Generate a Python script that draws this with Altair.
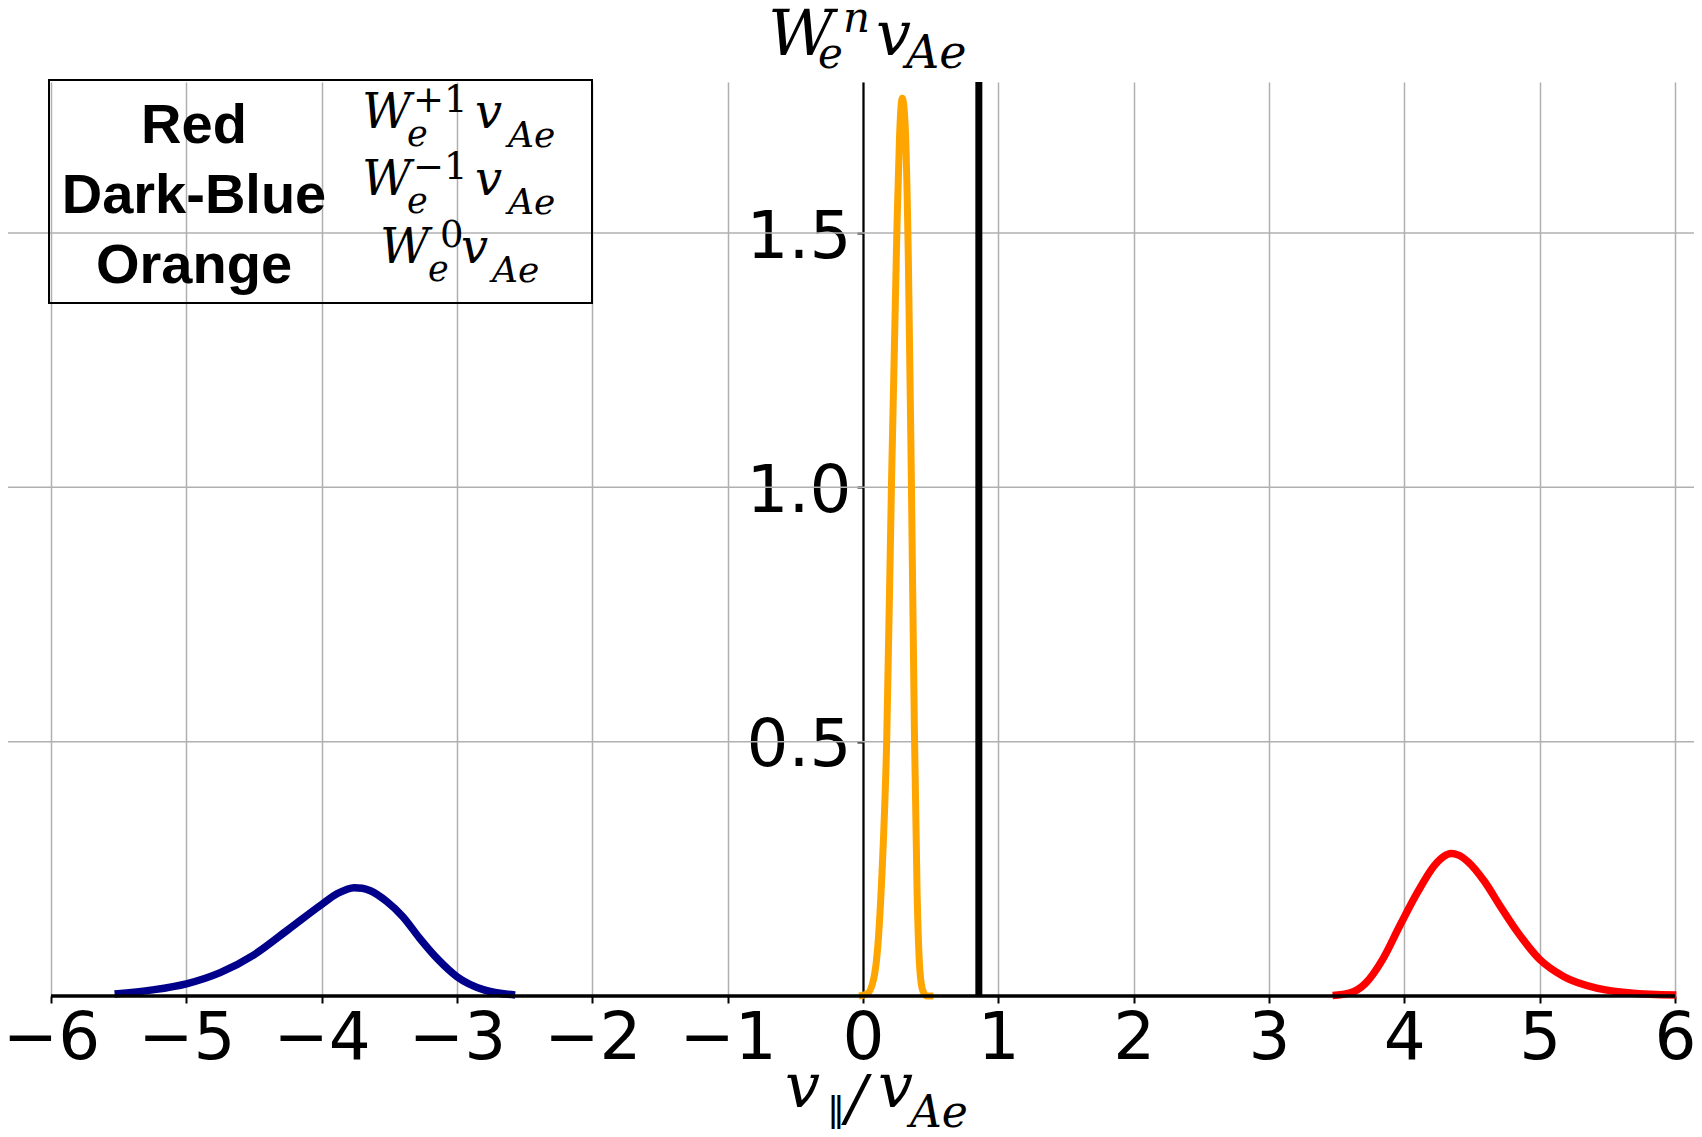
import altair as alt
import pandas as pd

# ---------------- data ----------------
blue_x = [-5.53, -5.25, -5.0, -4.75, -4.5, -4.25, -4.0, -3.88, -3.82, -3.76, -3.70, -3.64,
          -3.52, -3.4, -3.28, -3.14, -3.0, -2.8, -2.57]
blue_y = [0.004, 0.012, 0.024, 0.046, 0.081, 0.130, 0.180, 0.202, 0.209, 0.213, 0.212, 0.207,
          0.186, 0.156, 0.115, 0.072, 0.038, 0.012, 0.002]

red_x = [3.47, 3.6, 3.71, 3.84, 3.97, 4.1, 4.22, 4.29, 4.345, 4.40, 4.47, 4.59, 4.71, 4.83,
         5.0, 5.18, 5.43, 5.67, 6.01]
red_y = [0.001, 0.006, 0.024, 0.072, 0.140, 0.205, 0.256, 0.274, 0.280, 0.277, 0.264, 0.226,
         0.176, 0.128, 0.072, 0.038, 0.015, 0.006, 0.002]

orange_x = [-0.03, 0.03, 0.08, 0.11, 0.14, 0.175, 0.21, 0.25, 0.27, 0.29, 0.31, 0.335,
            0.358, 0.38, 0.40, 0.418, 0.44, 0.47, 0.52]
orange_y = [0.0, 0.004, 0.035, 0.10, 0.24, 0.5, 1.0, 1.5, 1.69, 1.765, 1.72, 1.45,
            1.0, 0.52, 0.2, 0.06, 0.012, 0.0, 0.0]

vline_x = [0.856]
x_ticks = [-6, -5, -4, -3, -2, -1, 0, 1, 2, 3, 4, 5, 6]
y_ticks = [0.5, 1.0, 1.5]
spine_x = [-6]
spine_x2 = [6]

legend_names = ["Red", "Dark-Blue", "Orange"]

# ---------------- layout ----------------
W = 1686
H = 914
XMIN, XMAX = -6.3177, 6.1404
YMAX = 1.797
OX, OY = 8, 82  # screen position of the view origin
y_axis_px = (0 - XMIN) / (XMAX - XMIN) * W

xs = alt.Scale(domain=[XMIN, XMAX], nice=False, zero=False)
ys = alt.Scale(domain=[0, YMAX], nice=False, zero=False)

GRID = "#b0b0b0"

x_axis = alt.Axis(
    values=x_ticks, format="d", grid=True, gridColor=GRID, gridWidth=1.5,
    domain=False, ticks=True, tickSize=7, tickWidth=2, tickColor="black",
    labelFont="DejaVu Sans", labelFontSize=66, labelColor="black",
    labelPadding=3, labelOverlap=False, labelFlush=False, labelBound=False,
    title=None)
y_axis = alt.Axis(
    values=y_ticks, format=".1f", grid=False, domain=True,
    domainColor="black", domainWidth=2.2, ticks=True, tickSize=6,
    tickWidth=2, tickColor="black", labelFont="DejaVu Sans",
    labelFontSize=66, labelColor="black", labelPadding=6, labelOffset=4,
    offset=-y_axis_px, title=None)

def X(f):
    return alt.X(f, scale=xs, axis=x_axis)

def Y(f):
    return alt.Y(f, scale=ys, axis=y_axis)

def df(x, y):
    return pd.DataFrame({"v": x, "w": y})

hgrid = alt.Chart(pd.DataFrame({"w": y_ticks})).mark_rule(
    color=GRID, strokeWidth=1.5
).encode(y=Y("w:Q"), x=alt.value(0), x2=alt.value(W))

blue = alt.Chart(df(blue_x, blue_y)).mark_line(
    color="#00008b", strokeWidth=7.5, interpolate="monotone"
).encode(x=X("v:Q"), y=Y("w:Q"))

red = alt.Chart(df(red_x, red_y)).mark_line(
    color="#ff0000", strokeWidth=7.5, interpolate="monotone"
).encode(x=X("v:Q"), y=Y("w:Q"))

orange = alt.Chart(df(orange_x, orange_y)).mark_line(
    color="#ffa500", strokeWidth=7, interpolate="monotone"
).encode(x=X("v:Q"), y=Y("w:Q"))

vline = alt.Chart(pd.DataFrame({"v": vline_x})).mark_rule(
    color="black", strokeWidth=7
).encode(x=X("v:Q"), y=alt.value(0), y2=alt.value(H))

spine = alt.Chart(pd.DataFrame({"v": spine_x, "v2": spine_x2, "w": [0]})).mark_rule(
    color="black", strokeWidth=3.5
).encode(x=X("v:Q"), x2="v2:Q", y=Y("w:Q"))

dummy = pd.DataFrame({"k": [0]})

def txt(s, x, y, size, font="DejaVu Serif", style="italic", weight="normal", align="left"):
    return alt.Chart(dummy).mark_text(
        text=s, font=font, fontSize=size, fontStyle=style, fontWeight=weight,
        align=align, baseline="alphabetic", color="black"
    ).encode(x=alt.value(x - OX), y=alt.value(y - OY))

texts = []
# title  W_e^n v_Ae
texts += [
    txt("W", 768, 55, 64), txt("e", 818, 68, 42), txt("n", 843, 32, 42),
    txt("v", 876, 55, 62), txt("Ae", 906, 68, 46),
]
# x label  v_par / v_Ae
texts += [
    txt("v", 785, 1107, 62), txt("‖", 827, 1122, 36, font="DejaVu Sans", style="normal"),
    txt("/", 846, 1119, 62), txt("v", 878, 1107, 62), txt("Ae", 910, 1127, 44),
]
# legend table: names
for name, base in zip(legend_names, [143, 213, 283]):
    texts.append(txt(name, 194, base, 56, font="Liberation Sans", style="normal",
                     weight="bold", align="center"))
# legend table: math
rows = [("+1", 362, 128, 407, 413, 475, 508), ("−1", 362, 195, 407, 413, 475, 508),
        ("0", 380, 263, 428, 440, 461, 492)]
for sup, wx, base, ex, sx, vx, ax in rows:
    texts += [
        txt("W", wx, base, 48), txt("e", ex, base + 18, 35),
        txt(sup, sx, base - 16, 37, style="normal"),
        txt("v", vx, base, 48), txt("Ae", ax, base + 19, 36),
    ]

box = alt.Chart(dummy).mark_rect(
    fillOpacity=0, stroke="black", strokeWidth=2
).encode(x=alt.value(49 - OX), x2=alt.value(592 - OX),
         y=alt.value(80 - OY), y2=alt.value(303 - OY))

chart = alt.layer(hgrid, blue, red, orange, vline, spine, box, *texts).properties(
    width=W, height=H,
    autosize=alt.AutoSizeParams(type="none"),
    padding={"left": 0, "top": 74, "right": 0, "bottom": 133},
    background="white",
).configure_view(stroke=None)

chart.save("out.html", embed_options={"renderer": "svg", "actions": False})
